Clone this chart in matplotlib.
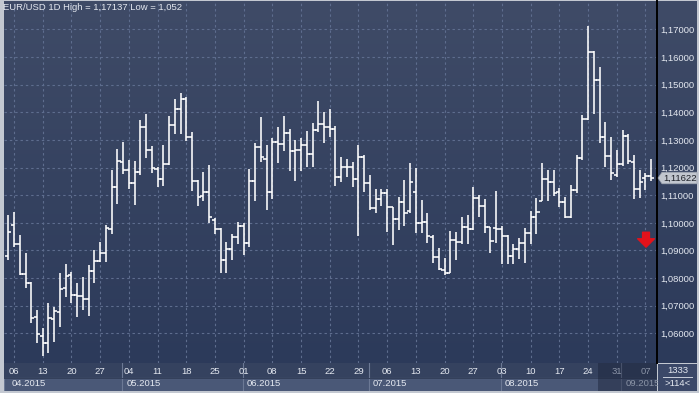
import numpy as np
import matplotlib
matplotlib.use("Agg")
import matplotlib.pyplot as plt
import pandas as pd
from matplotlib.patches import Rectangle, Polygon
from matplotlib.colors import LinearSegmentedColormap
from matplotlib.transforms import blended_transform_factory

plt.rcParams['font.family'] = ['Liberation Sans', 'DejaVu Sans']

# ---------------- data ----------------
dates = pd.bdate_range("2015-04-03", "2015-09-08")

opens = [1.0879, 1.0992, 1.0922, 1.0814, 1.0781, 1.0661, 1.0592, 1.0564, 1.0651, 1.0679,
         1.0766, 1.0811, 1.0739, 1.0736, 1.0724, 1.0826, 1.0863, 1.0890, 1.0977, 1.1129,
         1.1219, 1.1191, 1.1145, 1.1183, 1.1346, 1.1265, 1.1194, 1.1158, 1.1212, 1.1354,
         1.1411, 1.1447, 1.1312, 1.1152, 1.1097, 1.1111, 1.1010, 1.0977, 1.0866, 1.0904,
         1.0950, 1.0990, 1.0926, 1.1151, 1.1274, 1.1230, 1.1111, 1.1291, 1.1285, 1.1326,
         1.1260, 1.1264, 1.1281, 1.1248, 1.1335, 1.1358, 1.1346, 1.1339, 1.1165, 1.1201,
         1.1201, 1.1158, 1.1237, 1.1143, 1.1053, 1.1086, 1.1109, 1.1056, 1.1014, 1.1074,
         1.1043, 1.1110, 1.0998, 1.1004, 1.0949, 1.0878, 1.0830, 1.0820, 1.0938, 1.0930,
         1.0984, 1.0977, 1.1089, 1.1061, 1.0984, 1.0980, 1.0977, 1.0953, 1.0881, 1.0904,
         1.0926, 1.0964, 1.1020, 1.1080, 1.1158, 1.1149, 1.1113, 1.1077, 1.1021, 1.1119,
         1.1233, 1.1374, 1.1617, 1.1516, 1.1309, 1.1243, 1.1173, 1.1212, 1.1314, 1.1221,
         1.1121, 1.1161, 1.1169]
highs = [1.1028, 1.1040, 1.0956, 1.0890, 1.0787, 1.0685, 1.0619, 1.0709, 1.0697, 1.0820,
         1.0851, 1.0821, 1.0781, 1.0803, 1.0848, 1.0902, 1.0932, 1.0992, 1.1191, 1.1267,
         1.1294, 1.1227, 1.1224, 1.1372, 1.1394, 1.1279, 1.1201, 1.1282, 1.1386, 1.1448,
         1.1469, 1.1455, 1.1328, 1.1155, 1.1185, 1.1209, 1.1017, 1.0981, 1.0930, 1.0960,
         1.1004, 1.0999, 1.1194, 1.1290, 1.1383, 1.1282, 1.1306, 1.1348, 1.1386, 1.1338,
         1.1300, 1.1306, 1.1332, 1.1362, 1.1441, 1.1400, 1.1411, 1.1350, 1.1237, 1.1230,
         1.1221, 1.1282, 1.1245, 1.1173, 1.1121, 1.1121, 1.1122, 1.1058, 1.1095, 1.1155,
         1.1215, 1.1197, 1.1083, 1.1034, 1.0956, 1.0908, 1.0872, 1.0971, 1.0968, 1.1022,
         1.1028, 1.1129, 1.1101, 1.1086, 1.0986, 1.1116, 1.0989, 1.0956, 1.0924, 1.0946,
         1.0980, 1.1044, 1.1089, 1.1215, 1.1191, 1.1191, 1.1125, 1.1095, 1.1137, 1.1245,
         1.1390, 1.17137, 1.1621, 1.1565, 1.1366, 1.1312, 1.1264, 1.1336, 1.1320, 1.1245,
         1.1191, 1.1179, 1.1230]
lows = [1.0866, 1.0912, 1.0811, 1.0763, 1.0637, 1.0567, 1.0520, 1.0530, 1.0570, 1.0624,
        1.0733, 1.0709, 1.0661, 1.0685, 1.0664, 1.0784, 1.0860, 1.0860, 1.0960, 1.1068,
        1.1176, 1.1123, 1.1065, 1.1173, 1.1236, 1.1181, 1.1131, 1.1133, 1.1209, 1.1321,
        1.1323, 1.1297, 1.1116, 1.1061, 1.1080, 1.1001, 1.0959, 1.0820, 1.0820, 1.0866,
        1.0924, 1.0884, 1.0913, 1.1080, 1.1221, 1.1047, 1.1085, 1.1215, 1.1261, 1.1189,
        1.1152, 1.1189, 1.1203, 1.1203, 1.1330, 1.1290, 1.1312, 1.1133, 1.1149, 1.1167,
        1.1131, 1.0953, 1.1113, 1.1047, 1.1034, 1.1061, 1.0968, 1.0920, 1.0974, 1.0989,
        1.1034, 1.0962, 1.0964, 1.0928, 1.0856, 1.0830, 1.0811, 1.0818, 1.0866, 1.0924,
        1.0924, 1.0974, 1.1022, 1.0964, 1.0892, 1.0926, 1.0850, 1.0850, 1.0850, 1.0868,
        1.0856, 1.0924, 1.0960, 1.1080, 1.1080, 1.1097, 1.1056, 1.1017, 1.1017, 1.1107,
        1.1227, 1.1372, 1.1394, 1.1290, 1.1203, 1.1155, 1.1167, 1.1206, 1.1213, 1.1086,
        1.1089, 1.1119, 1.1152]
closes = [1.0968, 1.0922, 1.0814, 1.0781, 1.0655, 1.0598, 1.0564, 1.0655, 1.0681, 1.0761,
          1.0808, 1.0739, 1.0736, 1.0724, 1.0826, 1.0863, 1.0890, 1.0980, 1.1129, 1.1224,
          1.1191, 1.1145, 1.1183, 1.1346, 1.1265, 1.1197, 1.1158, 1.1212, 1.1354, 1.1411,
          1.1447, 1.1312, 1.1152, 1.1092, 1.1111, 1.1022, 1.0977, 1.0866, 1.0904, 1.0950,
          1.0990, 1.0926, 1.1151, 1.1274, 1.1237, 1.1111, 1.1291, 1.1285, 1.1326, 1.1260,
          1.1264, 1.1281, 1.1248, 1.1335, 1.1358, 1.1346, 1.1339, 1.1165, 1.1201, 1.1201,
          1.1158, 1.1237, 1.1143, 1.1053, 1.1086, 1.1109, 1.1056, 1.1014, 1.1074, 1.1034,
          1.1147, 1.1001, 1.1004, 1.0953, 1.0878, 1.0833, 1.0820, 1.0938, 1.0930, 1.0984,
          1.0977, 1.1089, 1.1061, 1.0984, 1.0934, 1.0977, 1.0953, 1.0881, 1.0904, 1.0926,
          1.0964, 1.1020, 1.1040, 1.1158, 1.1149, 1.1108, 1.1077, 1.1020, 1.1119, 1.1236,
          1.1374, 1.1617, 1.1516, 1.1309, 1.1243, 1.1179, 1.1212, 1.1314, 1.1225, 1.1121,
          1.1148, 1.1169, 1.11622]

price_levels = [1.06, 1.07, 1.08, 1.09, 1.10, 1.11, 1.12, 1.13, 1.14, 1.15, 1.16, 1.17]
title_text = "EUR/USD 1D High = 1,17137 Low = 1,052"
last_price_label = "1,11622"
corner_top = "1333"
corner_bottom = ">114<"

# ---------------- layout helpers ----------------
W, H = 699, 393
def fx(px): return px / W
def fy(py): return 1 - py / H

XMIN, XMAX = -0.75, 113.01
YMIN, YMAX = 1.04931, 1.18024

BG_TOP, BG_BOT = '#3f4b67', '#2c3a5a'
grad_cmap = LinearSegmentedColormap.from_list('g', [BG_TOP, BG_BOT])
GRID = '#5e6d8e'
TXT = '#e4e8f0'
FS = 6.8

fig = plt.figure(figsize=(W / 100, H / 100), dpi=100)
fig.patch.set_facecolor('#c3c8d1')

# right price panel background
axr = fig.add_axes([fx(657), fy(363), fx(697) - fx(657), fy(1) - fy(363)])
axr.imshow(np.linspace(0, 1, 256).reshape(-1, 1), cmap=grad_cmap, aspect='auto',
           extent=[0, 1, 0, 1])
axr.axis('off')
axr.set_zorder(0)

# main axes
ax = fig.add_axes([fx(4), fy(363), fx(657) - fx(4), fy(1) - fy(363)])
ax.set_zorder(1)
ax.patch.set_alpha(0)
ax.imshow(np.linspace(0, 1, 256).reshape(-1, 1), cmap=grad_cmap, aspect='auto',
          extent=[XMIN, XMAX, YMIN, YMAX], zorder=0)
ax.set_xlim(XMIN, XMAX)
ax.set_ylim(YMIN, YMAX)

idx = np.arange(len(dates))
o = np.array(opens); h = np.array(highs); l = np.array(lows); c = np.array(closes)
tw = 0.55
LW = 1.15
ax.vlines(idx, l, h, color='white', lw=LW, zorder=3)
ax.hlines(o, idx - tw, idx, color='white', lw=LW, zorder=3)
ax.hlines(c, idx, idx + tw, color='white', lw=LW, zorder=3)

# ticks / grid
mondays = [i for i, d in enumerate(dates) if d.weekday() == 0]
ax.set_xticks(mondays)
ax.tick_params(axis='x', length=0, labelbottom=False)
ax.yaxis.tick_right()
ax.set_yticks(price_levels)
ax.set_yticklabels([f"{v:.5f}".replace('.', ',') for v in price_levels])
ax.tick_params(axis='y', length=0, pad=2.5, labelsize=FS, labelcolor=TXT)
ax.grid(True, color=GRID, linestyle=(0, (2.2, 2.6)), lw=0.8, zorder=1)
for s in ['left', 'top', 'bottom']:
    ax.spines[s].set_visible(False)
ax.spines['right'].set_color('black')
ax.spines['right'].set_linewidth(1.4)

# title
fig.text(fx(3), fy(8), title_text, ha='left', va='center', fontsize=FS, color=TXT, zorder=5)

# red arrow
ax.annotate('', xy=(111.1, 1.0912), xytext=(111.1, 1.0966),
            arrowprops=dict(arrowstyle='simple,head_length=0.55,head_width=1.1,tail_width=0.45',
                            color='#e3121b', shrinkA=0, shrinkB=0, mutation_scale=11), zorder=4)

# last price tag
tr = blended_transform_factory(fig.transFigure, ax.transData)
lp = closes[-1]
hh = 0.0021
tag = Polygon([(fx(658), lp), (fx(662), lp + hh), (fx(697), lp + hh), (fx(697), lp - hh), (fx(662), lp - hh)],
              closed=True, transform=tr, facecolor='#c2c7cf', edgecolor='#9aa1ad', lw=0.5,
              zorder=6, clip_on=False)
fig.add_artist(tag)
tag_txt = fig.text(fx(680), lp, last_price_label, transform=tr, ha='center', va='center',
                   fontsize=FS, color='#1c1f26', zorder=8)

# bottom date band
axb = fig.add_axes([fx(4), fy(391), fx(657) - fx(4), fy(363) - fy(391)])
axb.set_xlim(XMIN, XMAX)
axb.set_ylim(28, 0)
axb.axis('off')
axb.add_patch(Rectangle((XMIN, 0), XMAX - XMIN, 28, facecolor='#35425f', edgecolor='none'))

month_starts = [0] + [i for i in range(1, len(dates)) if dates[i].month != dates[i - 1].month]
bounds = [XMIN] + [i - 0.2 for i in month_starts[1:]] + [XMAX + 5]
for k, ms in enumerate(month_starts):
    x0, x1 = bounds[k], bounds[k + 1]
    axb.add_patch(Rectangle((x0, 15), x1 - x0, 14, facecolor='#4a5877', edgecolor='#6c7995', lw=0.8))
    if k > 0:
        axb.plot([x0, x0], [0, 15], color='#6c7995', lw=0.8)
    tx = x0 + 0.75 if k > 0 else 0.6
    color = TXT if dates[ms].month != 9 else '#8a93a6'
    axb.text(tx, 21.0, dates[ms].strftime('%m.%Y'), ha='left', va='center', fontsize=FS,
             color=color, zorder=6)
for m in mondays:
    col = TXT if m < 103 else '#8a93a6'
    axb.text(m, 8.5, f"{dates[m].day:02d}", ha='center', va='center', fontsize=FS, color=col,
             zorder=6)
axb.add_patch(Rectangle((102.7, 0), XMAX - 102.7, 28, facecolor='#1a2238', alpha=0.45,
                        edgecolor='none', zorder=5))
axb.plot([XMIN, XMAX], [14.5, 14.5], color='#2a3550', lw=0.6)

# corner box
axc = fig.add_axes([fx(658), fy(391), fx(697) - fx(658), fy(364) - fy(391)])
axc.set_xlim(0, 1); axc.set_ylim(1, 0)
axc.axis('off')
axc.add_patch(Rectangle((0, 0), 1, 1, facecolor='#3b4868', edgecolor='none'))
axc.text(0.5, 0.25, corner_top, ha='center', va='center', fontsize=FS, color=TXT)
axc.text(0.5, 0.72, corner_bottom, ha='center', va='center', fontsize=FS, color=TXT)
axc.plot([0.12, 0.88], [0.48, 0.48], color='#c9cfdb', lw=0.7)

fig.savefig('out.png', dpi=100, facecolor=fig.get_facecolor())
